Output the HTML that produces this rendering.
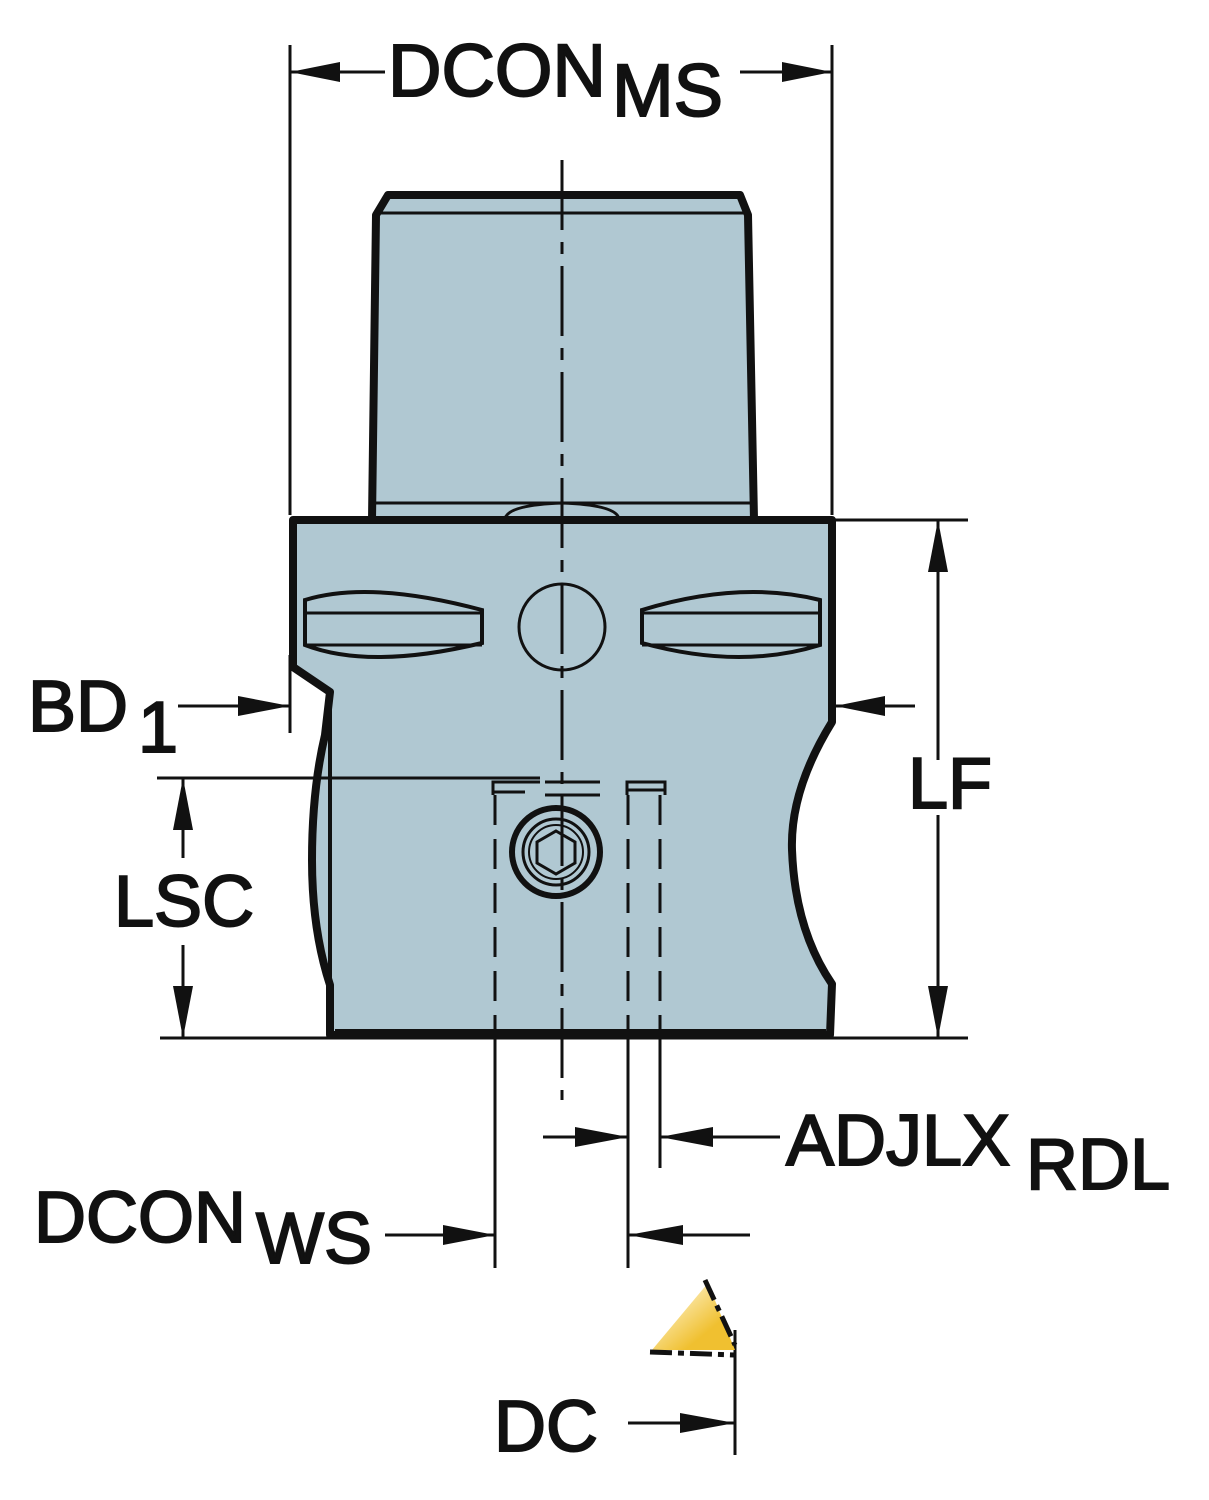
<!DOCTYPE html>
<html><head><meta charset="utf-8"><style>
html,body{margin:0;padding:0;background:#fff;width:1209px;height:1500px;overflow:hidden}
svg{display:block}
text{font-family:"Liberation Sans",sans-serif;fill:#111;stroke:#111;stroke-width:2}
</style></head><body>
<svg width="1209" height="1500" viewBox="0 0 1209 1500" xmlns="http://www.w3.org/2000/svg">
<defs>
<linearGradient id="g" x1="0" y1="0" x2="1" y2="1">
<stop offset="0.1" stop-color="#fff8dc"/><stop offset="0.7" stop-color="#f0c030"/></linearGradient>
</defs>
<g stroke="#111" fill="none">
<path d="M388,195 L740,195 L748,215 L754,520 L372,520 L376,215 Z" fill="#b0c8d2" stroke-width="8" stroke-linejoin="round"/>
<line x1="378" y1="213" x2="746" y2="213" stroke-width="3"/>
<line x1="374" y1="503" x2="752" y2="503" stroke-width="3"/>
<path d="M505,520 Q505,505 562,503 Q619,505 619,520" stroke-width="3"/>
<path d="M293,520 L832,520 L832,722 Q790,790 792,850 Q795,930 832,984 L830,1035 L330,1035 L330,985 Q312,930 312,860 Q312,790 325,735 L330,692 L293,667 Z" fill="#b0c8d2" stroke-width="8" stroke-linejoin="round"/>
<line x1="330" y1="692" x2="330" y2="1035" stroke-width="4"/>
<line x1="335" y1="1030" x2="826" y2="1030" stroke-width="2"/>
<path d="M305,600 Q370,580 482,610 L482,643 Q370,670 305,645 Z" stroke-width="4"/>
<line x1="305" y1="613" x2="482" y2="613" stroke-width="3"/>
<line x1="305" y1="645" x2="482" y2="645" stroke-width="3"/>
<path d="M642,610 Q740,580 820,600 L820,645 Q740,670 642,643 Z" stroke-width="4"/>
<line x1="642" y1="613" x2="820" y2="613" stroke-width="3"/>
<line x1="642" y1="645" x2="820" y2="645" stroke-width="3"/>
<circle cx="562" cy="627" r="43" stroke-width="3"/>
<circle cx="556" cy="852" r="44" stroke-width="6"/>
<circle cx="556" cy="852" r="33" stroke-width="3"/>
<circle cx="556" cy="852" r="27" stroke-width="2"/>
<path d="M556,831 L575,842 L575,863 L556,874 L537,863 L537,842 Z" stroke-width="3"/>
<line x1="562" y1="160" x2="562" y2="1100" stroke-width="3" stroke-dasharray="70,12,12,12"/>
<line x1="495" y1="795" x2="495" y2="1035" stroke-width="3" stroke-dasharray="30,14"/>
<line x1="628" y1="795" x2="628" y2="1035" stroke-width="3" stroke-dasharray="30,14"/>
<line x1="660" y1="795" x2="660" y2="1035" stroke-width="3" stroke-dasharray="30,14"/>
<path d="M493,795 L493,782 L540,782 M493,792 L525,792 M545,782 L600,782 M545,795 L600,795 M627,795 L627,782 L665,782 L665,795 M627,790 L665,790" stroke-width="3"/>
<line x1="290" y1="45" x2="290" y2="515" stroke-width="3"/>
<line x1="832" y1="45" x2="832" y2="515" stroke-width="3"/>
<line x1="832" y1="520" x2="968" y2="520" stroke-width="3"/>
<line x1="160" y1="1038" x2="968" y2="1038" stroke-width="3"/>
<line x1="157" y1="778" x2="540" y2="778" stroke-width="3"/>
<line x1="290" y1="655" x2="290" y2="733" stroke-width="3"/>
<line x1="495" y1="1035" x2="495" y2="1268" stroke-width="3"/>
<line x1="628" y1="1035" x2="628" y2="1268" stroke-width="3"/>
<line x1="660" y1="1035" x2="660" y2="1168" stroke-width="3"/>
<line x1="735" y1="1330" x2="735" y2="1455" stroke-width="3"/>
<line x1="290" y1="72" x2="385" y2="72" stroke-width="3"/>
<line x1="740" y1="72" x2="832" y2="72" stroke-width="3"/>
<line x1="938" y1="520" x2="938" y2="760" stroke-width="3"/>
<line x1="938" y1="815" x2="938" y2="1038" stroke-width="3"/>
<line x1="178" y1="706" x2="290" y2="706" stroke-width="3"/>
<line x1="835" y1="706" x2="915" y2="706" stroke-width="3"/>
<line x1="183" y1="778" x2="183" y2="858" stroke-width="3"/>
<line x1="183" y1="945" x2="183" y2="1038" stroke-width="3"/>
<line x1="543" y1="1137" x2="628" y2="1137" stroke-width="3"/>
<line x1="660" y1="1137" x2="780" y2="1137" stroke-width="3"/>
<line x1="385" y1="1235" x2="495" y2="1235" stroke-width="3"/>
<line x1="628" y1="1235" x2="750" y2="1235" stroke-width="3"/>
<line x1="628" y1="1423" x2="735" y2="1423" stroke-width="3"/>
</g>
<g fill="#111">
<polygon points="290,72 340,62 340,82"/>
<polygon points="832,72 782,62 782,82"/>
<polygon points="938,520 928,572 948,572"/>
<polygon points="938,1038 928,986 948,986"/>
<polygon points="290,706 238,696 238,716"/>
<polygon points="835,706 885,696 885,716"/>
<polygon points="183,778 173,830 193,830"/>
<polygon points="183,1038 173,986 193,986"/>
<polygon points="628,1137 575,1127 575,1147"/>
<polygon points="660,1137 713,1127 713,1147"/>
<polygon points="495,1235 443,1225 443,1245"/>
<polygon points="628,1235 683,1225 683,1245"/>
<polygon points="735,1423 680,1413 680,1433"/>
</g>
<polygon points="652,1350 708,1283 735,1350" fill="url(#g)"/>
<path d="M705,1280 L735,1345 M650,1352 L735,1355" stroke="#111" stroke-width="5" stroke-dasharray="22,6,6,6" fill="none"/>
<text x="388" y="96" font-size="74">DCON</text>
<text x="612" y="116" font-size="74">MS</text>
<text x="908" y="808" font-size="72">LF</text>
<text x="28" y="731" font-size="72">BD</text>
<text x="138" y="752" font-size="72">1</text>
<text x="114" y="926" font-size="72">LSC</text>
<text x="786" y="1165" font-size="72">ADJLX</text>
<text x="1026" y="1189" font-size="72">RDL</text>
<text x="34" y="1242" font-size="72">DCON</text>
<text x="256" y="1263" font-size="72">WS</text>
<text x="494" y="1451" font-size="72">DC</text>
</svg>
</body></html>
